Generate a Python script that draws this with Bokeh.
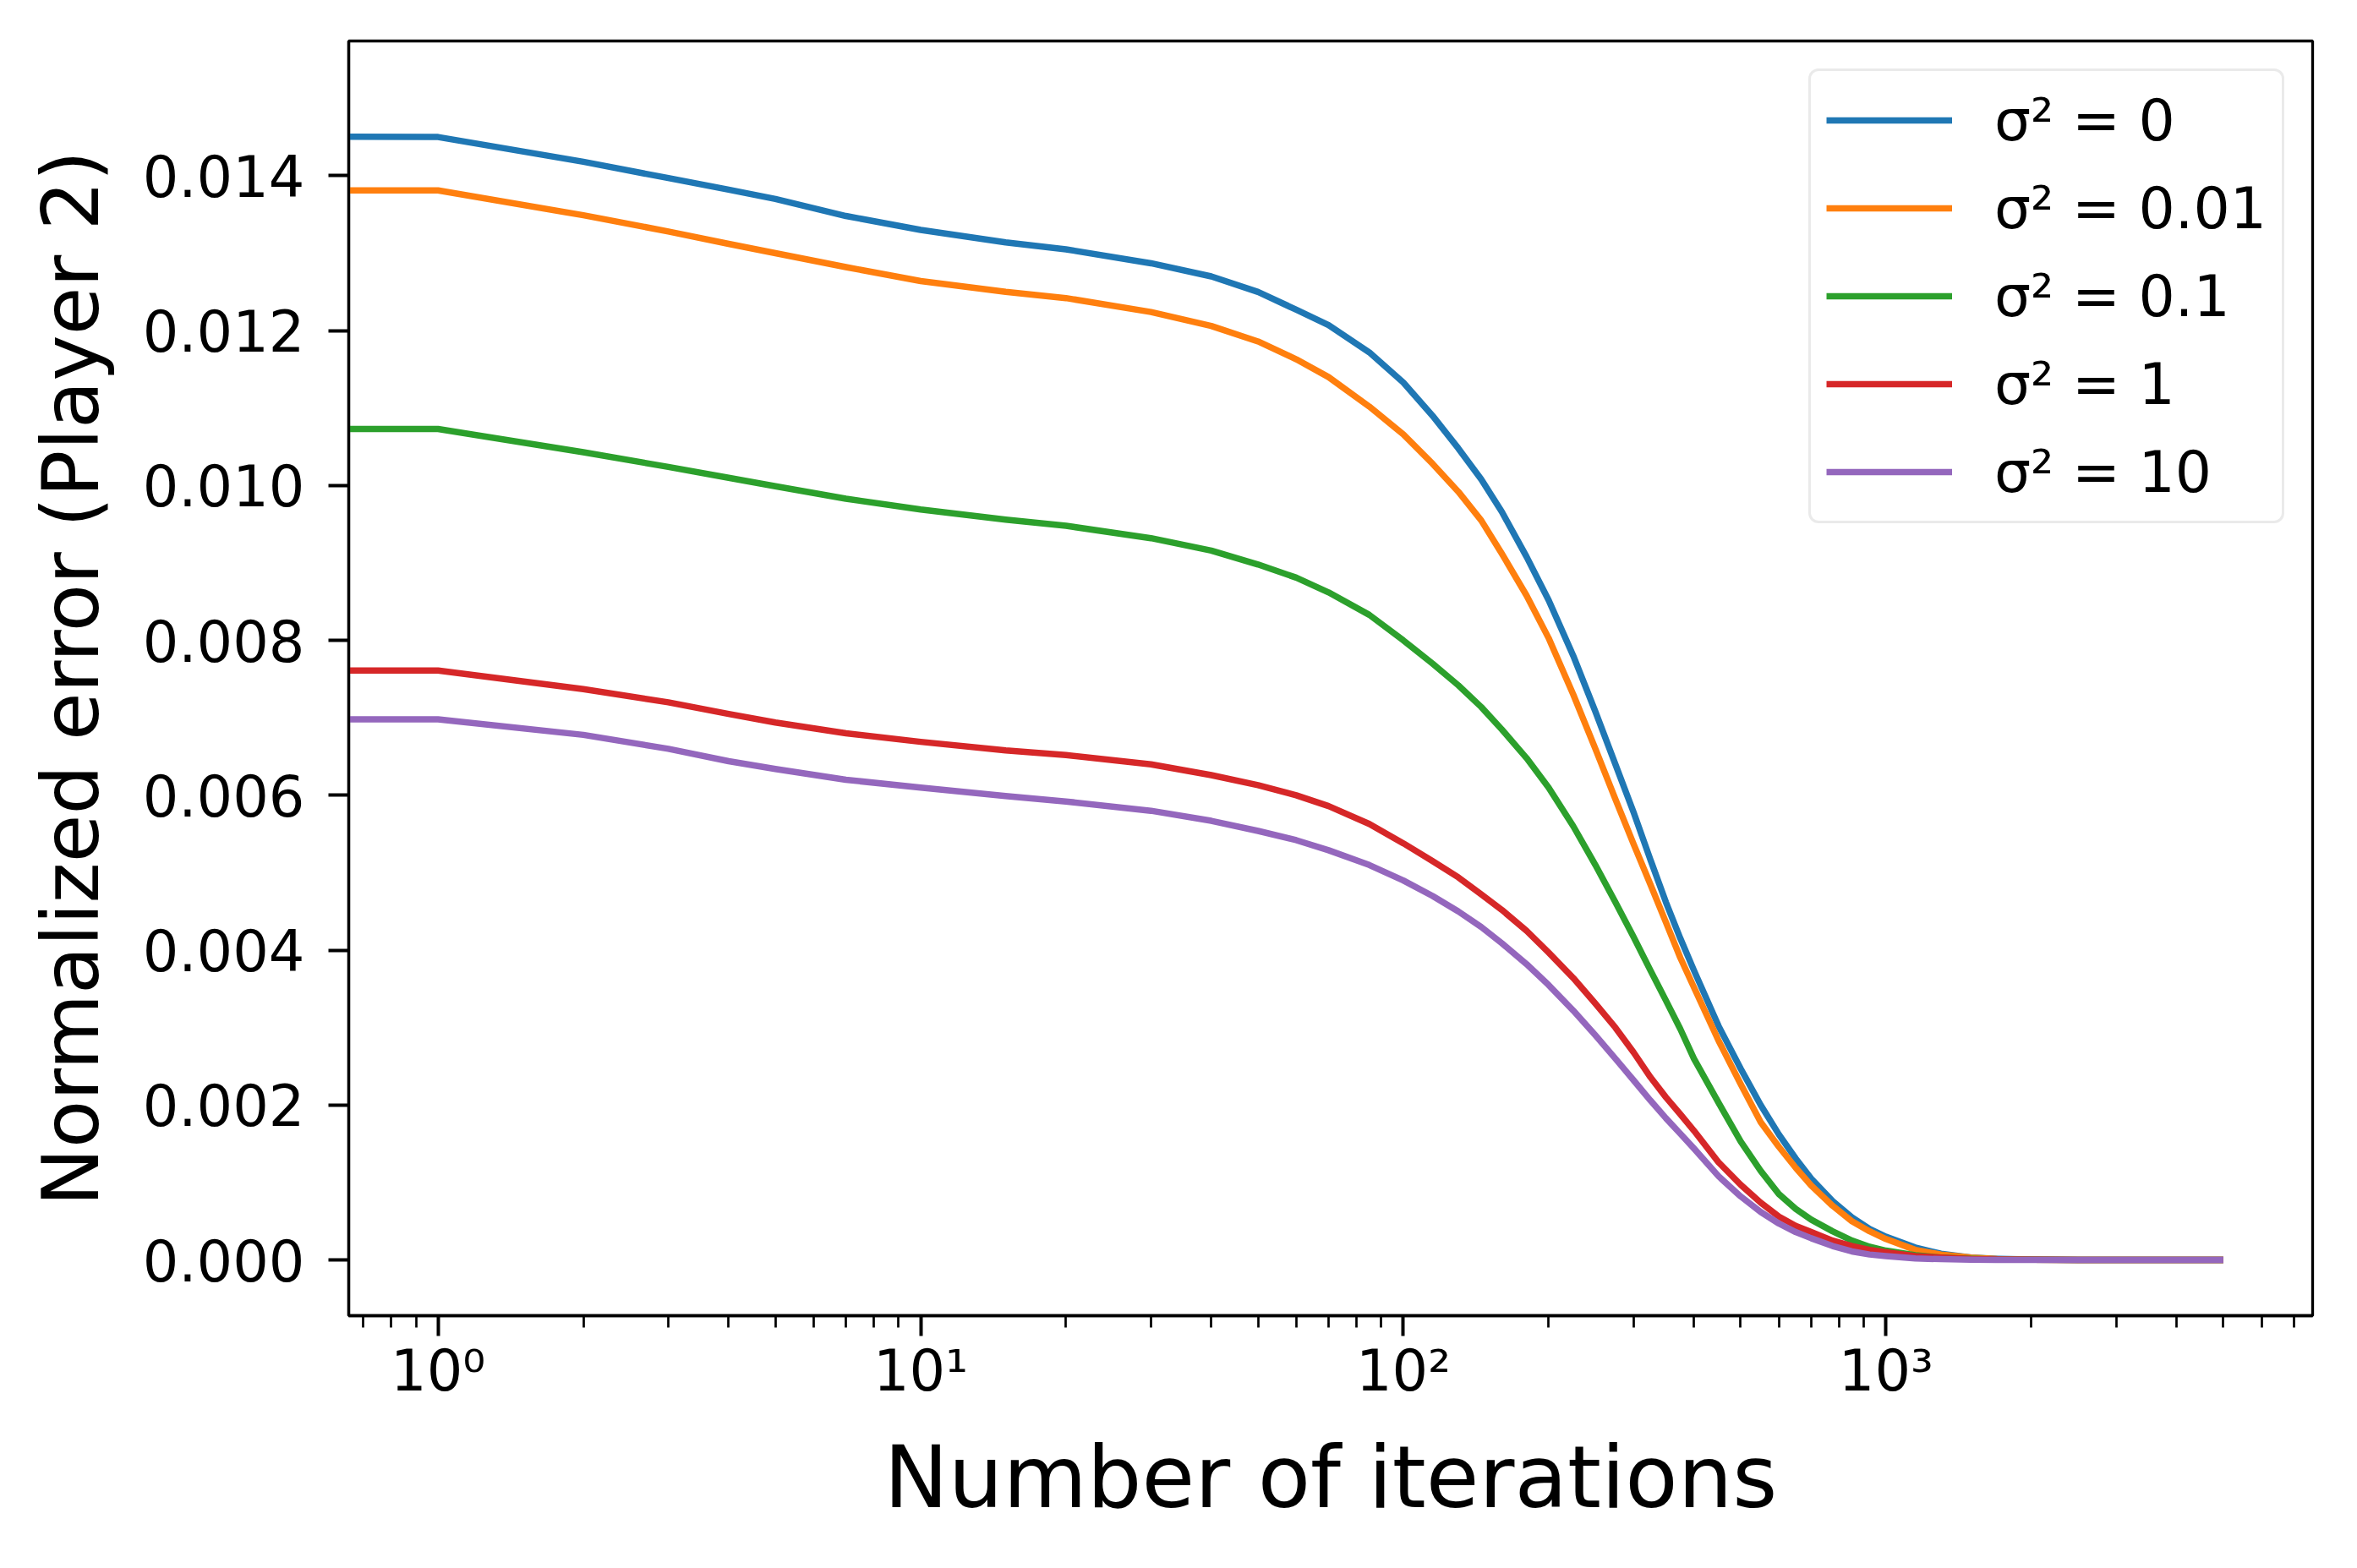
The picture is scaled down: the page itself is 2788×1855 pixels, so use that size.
from bokeh.plotting import figure
from bokeh.models import (Range1d, FixedTicker, PrintfTickFormatter, CustomJSTickFormatter,
                          Legend, LegendItem, ColumnDataSource)
from bokeh.embed import file_html
from bokeh.resources import INLINE

# ---------------- data (errors in units of 1e-3) ----------------
iterations = [0, 1, 2, 3, 4, 5, 7, 10, 15, 20,
              30, 40, 50, 60, 70, 85, 100, 115, 130, 145,
              160, 180, 200, 225, 250, 275, 300, 325, 350, 375,
              400, 450, 500, 550, 600, 650, 700, 775, 850, 925,
              1000, 1150, 1300, 1500, 1700, 2000, 2500, 3500, 5000]

err_s0 = [14.52, 14.50, 14.18, 13.97, 13.82, 13.70, 13.48, 13.30, 13.14, 13.05,
          12.87, 12.70, 12.50, 12.27, 12.07, 11.72, 11.33, 10.90, 10.48, 10.08,
          9.66, 9.08, 8.52, 7.80, 7.08, 6.40, 5.78, 5.17, 4.62, 4.15,
          3.74, 3.02, 2.47, 2.00, 1.62, 1.31, 1.05, 0.76, 0.55, 0.40,
          0.30, 0.16, 0.08, 0.03, 0.015, 0.005, 0.0, 0.0, 0.0]

err_s001 = [13.82, 13.81, 13.49, 13.28, 13.12, 13.00, 12.82, 12.64, 12.50, 12.42,
            12.24, 12.06, 11.86, 11.63, 11.40, 11.02, 10.66, 10.28, 9.92, 9.55,
            9.12, 8.58, 8.03, 7.30, 6.60, 5.95, 5.37, 4.85, 4.36, 3.90,
            3.52, 2.83, 2.27, 1.78, 1.46, 1.19, 0.96, 0.70, 0.50, 0.37,
            0.27, 0.13, 0.07, 0.03, 0.012, 0.004, 0.0, 0.0, 0.0]

err_s01 = [10.73, 10.73, 10.43, 10.24, 10.10, 9.99, 9.83, 9.69, 9.56, 9.48,
           9.32, 9.16, 8.98, 8.81, 8.62, 8.33, 8.00, 7.70, 7.42, 7.14,
           6.85, 6.48, 6.10, 5.60, 5.10, 4.62, 4.17, 3.74, 3.35, 2.98,
           2.60, 2.03, 1.53, 1.15, 0.85, 0.66, 0.52, 0.37, 0.25, 0.17,
           0.12, 0.06, 0.03, 0.015, 0.006, 0.002, 0.0, 0.0, 0.0]

err_s1 = [7.61, 7.61, 7.37, 7.20, 7.05, 6.94, 6.80, 6.69, 6.58, 6.52,
          6.40, 6.26, 6.13, 6.00, 5.86, 5.63, 5.38, 5.15, 4.94, 4.72,
          4.52, 4.25, 3.97, 3.64, 3.31, 3.00, 2.68, 2.36, 2.10, 1.88,
          1.67, 1.26, 0.97, 0.74, 0.56, 0.44, 0.36, 0.25, 0.18, 0.13,
          0.10, 0.05, 0.03, 0.012, 0.005, 0.002, 0.0, 0.0, 0.0]

err_s10 = [6.98, 6.98, 6.78, 6.60, 6.44, 6.34, 6.20, 6.10, 5.99, 5.92,
           5.80, 5.67, 5.54, 5.42, 5.29, 5.10, 4.90, 4.70, 4.50, 4.30,
           4.09, 3.82, 3.55, 3.22, 2.90, 2.60, 2.32, 2.06, 1.83, 1.63,
           1.44, 1.08, 0.82, 0.62, 0.47, 0.36, 0.28, 0.18, 0.11, 0.07,
           0.05, 0.02, 0.01, 0.004, 0.001, 0.0, 0.0, 0.0, 0.0]

series_labels = ["σ² = 0", "σ² = 0.01", "σ² = 0.1", "σ² = 1", "σ² = 10"]
series_values = [err_s0, err_s001, err_s01, err_s1, err_s10]
series_colors = ["#1f77b4", "#ff7f0e", "#2ca02c", "#d62728", "#9467bd"]

y_ticks = [0.0, 0.002, 0.004, 0.006, 0.008, 0.010, 0.012, 0.014]
x_ticks = [1, 10, 100, 1000]

FONT = "DejaVu Sans"

# ---------------- figure ----------------
p = figure(width=2772, height=1839, x_axis_type="log",
           x_range=Range1d(0.653, 7656), y_range=Range1d(-0.00072, 0.01574),
           output_backend="svg", toolbar_location=None,
           min_border_left=412, min_border_right=37, min_border_top=48, min_border_bottom=283)
p.background_fill_color = "white"
p.border_fill_color = "white"
p.xgrid.visible = False
p.ygrid.visible = False
p.outline_line_color = "black"
p.outline_line_width = 3.3
p.outline_line_alpha = 1.0

# iteration 0 lies at -inf on a log axis: draw it off the left edge (clipped), as matplotlib does
x_plot = [i if i > 0 else 0.05 for i in iterations]

renderers = []
for vals, col in zip(series_values, series_colors):
    src = ColumnDataSource(dict(x=x_plot, y=[v * 1e-3 for v in vals]))
    r = p.line("x", "y", source=src, line_color=col, line_width=7.5, line_join="round")
    renderers.append(r)

# ---------------- axes ----------------
minor = [m * 10 ** k for k in range(-1, 4) for m in range(2, 10)]
p.xaxis.ticker = FixedTicker(ticks=x_ticks, minor_ticks=minor)
p.xaxis.formatter = CustomJSTickFormatter(code="""
    const sup = {"0":"\u2070","1":"\u00b9","2":"\u00b2","3":"\u00b3","4":"\u2074","-":"\u207b"};
    const e = Math.round(Math.log10(tick));
    return "10" + String(e).split("").map(c => sup[c]).join("");
""")
p.yaxis.ticker = FixedTicker(ticks=y_ticks, minor_ticks=[])
p.yaxis.formatter = PrintfTickFormatter(format="%.3f")

for ax in (p.xaxis[0], p.yaxis[0]):
    ax.axis_line_color = "black"
    ax.axis_line_width = 3.3
    ax.major_tick_line_color = "black"
    ax.major_tick_line_width = 4
    ax.major_tick_out = 24
    ax.major_tick_in = 0
    ax.minor_tick_line_color = "black"
    ax.minor_tick_line_width = 2.7
    ax.minor_tick_out = 14
    ax.minor_tick_in = 0
    ax.major_label_text_font = FONT
    ax.major_label_text_font_size = "67px"
    ax.major_label_text_color = "black"
    ax.axis_label_text_font = FONT
    ax.axis_label_text_font_style = "normal"
    ax.axis_label_text_color = "black"

p.xaxis.axis_label = "Number of iterations"
p.xaxis.axis_label_text_font_size = "102px"
p.xaxis.major_label_standoff = 2
p.xaxis.axis_label_standoff = 24

p.yaxis.axis_label = "Normalized error (Player 2)"
p.yaxis.axis_label_text_font_size = "92px"
p.yaxis.major_label_standoff = 28
p.yaxis.axis_label_standoff = 28

# ---------------- legend ----------------
items = [LegendItem(label=lab, renderers=[r]) for lab, r in zip(series_labels, renderers)]
legend = Legend(items=items, location="top_right")
legend.margin = 33
legend.padding = 18
legend.spacing = 24
legend.glyph_width = 149
legend.glyph_height = 80
legend.label_height = 80
legend.label_standoff = 50
legend.label_text_font = FONT
legend.label_text_font_size = "68px"
legend.label_text_color = "black"
legend.border_line_color = "#d6d6d6"
legend.border_line_width = 3.5
legend.border_radius = 12
legend.background_fill_color = "white"
legend.background_fill_alpha = 0.8
p.add_layout(legend, "center")

open("out.html", "w").write(file_html(p, INLINE))
